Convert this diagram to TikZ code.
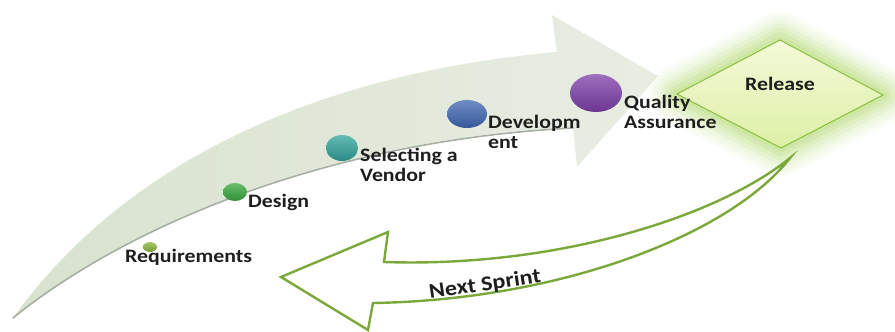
\documentclass[tikz,border=0pt]{standalone}
\usepackage{fontspec}
\setmainfont{Carlito}
\newfontfamily\lblfont[FakeStretch=1.15]{Carlito}
\usetikzlibrary{shapes.geometric}
\definecolor{arrowfill}{HTML}{D9E2CF}
\definecolor{arrowlight}{HTML}{E8EDE2}
\definecolor{shadowline}{HTML}{A7AEA2}
\definecolor{glow}{HTML}{9ACD45}
\definecolor{dfillA}{HTML}{F3FAD9}
\definecolor{dfillB}{HTML}{DDEFA5}
\definecolor{dedge}{HTML}{8DBE3E}
\definecolor{nsgreen}{HTML}{7BA83A}
\definecolor{txt}{HTML}{1E1E1E}
\definecolor{creq}{HTML}{8CB43C}
\definecolor{cdes}{HTML}{39A83D}
\definecolor{cven}{HTML}{31A39B}
\definecolor{cdev}{HTML}{3F66B3}
\definecolor{cqa}{HTML}{7E3FAA}
\tikzset{
  lbl/.style={font=\lblfont\fontsize{19}{19.5}\selectfont\bfseries, text=txt, inner sep=0pt, align=left},
  dot/.style={ellipse, inner sep=0pt, draw=none, top color=#1!75!white, bottom color=#1!85!black}
}
\begin{document}
\begin{tikzpicture}[x=1pt,y=-1pt]
\useasboundingbox (0,0) rectangle (895,332);
% big curved arrow
\path[left color=arrowfill, right color=arrowlight]
  (13,318) .. controls (130,155) and (330,72) .. (557,52) -- (552,15) -- (658,76) -- (577,167) -- (573,127)
  .. controls (320,140) and (120,230) .. (13,318) -- cycle;
\draw[shadowline, line width=1.6pt, line cap=round] (573,128) .. controls (320,141) and (120,231) .. (13,318);
% release diamond
\coordinate (dT) at (780,40);
\coordinate (dR) at (883,95);
\coordinate (dB) at (781,148);
\coordinate (dL) at (677,94);
\foreach \w/\o in {56/0.05,48/0.06,40/0.07,32/0.09,24/0.11,16/0.13,8/0.15}
  \draw[glow, line width=\w pt, opacity=\o, line join=round] (dT) -- (dR) -- (dB) -- (dL) -- cycle;
\draw[dedge, line width=1pt, top color=dfillA, bottom color=dfillB] (dT) -- (dR) -- (dB) -- (dL) -- cycle;
\node[lbl] (release) at (780,84) {Release};
% next sprint arrow
\draw[nsgreen, line width=2.4pt, fill=white, line join=miter]
  (790,158) .. controls (720,215) and (560,268) .. (384,262) -- (388,232) -- (281,277) -- (368,330) -- (373,303)
  .. controls (560,300) and (730,235) .. (790,158) -- cycle;
\node[lbl, font=\lblfont\fontsize{21}{22}\selectfont\bfseries, rotate=8.5] (next) at (485,285) {Next Sprint};
% stage dots
\node[dot=creq, minimum width=14pt, minimum height=10pt] (req) at (150,247) {};
\node[dot=cdes, minimum width=24pt, minimum height=18pt] (des) at (235,192) {};
\node[dot=cven, minimum width=32pt, minimum height=26pt] (ven) at (342,148) {};
\node[dot=cdev, minimum width=40pt, minimum height=28pt] (dev) at (467,114) {};
\node[dot=cqa, minimum width=52pt, minimum height=38pt] (qa) at (596,93) {};
% labels (base anchor = baseline of last line)
\node[lbl, anchor=base west] (treq) at (125,262) {Requirements};
\node[lbl, anchor=base west] (tdes) at (248,207) {Design};
\node[lbl, anchor=base west] (tven) at (360,181) {Selecting a\\Vendor};
\node[lbl, anchor=base west] (tdev) at (488,148) {Developm\\ent};
\node[lbl, anchor=base west] (tqa) at (624,128) {Quality\\Assurance};
\end{tikzpicture}
\end{document}
